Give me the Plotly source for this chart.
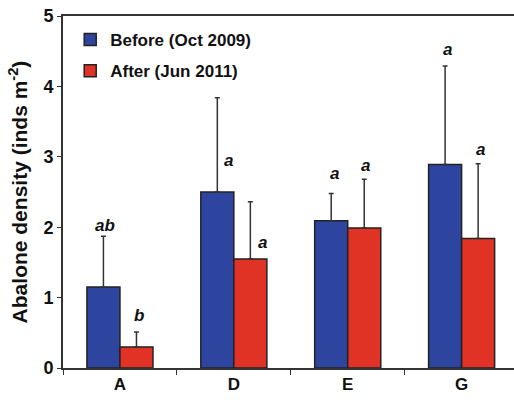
import plotly.graph_objects as go

categories = ["A", "D", "E", "G"]
before_vals = [1.15, 2.50, 2.09, 2.89]
before_err = [0.72, 1.34, 0.39, 1.40]
after_vals = [0.30, 1.55, 1.99, 1.84]
after_err = [0.21, 0.81, 0.69, 1.06]
before_letters = ["ab", "a", "a", "a"]
after_letters = ["b", "a", "a", "a"]
before_letter_y = [2.03, 2.95, 2.76, 4.52]
after_letter_y = [0.74, 1.78, 2.88, 3.11]
before_letter_dx = [-15, -5, -13, -14]
after_letter_dx = [19, 29, 18, 19]

FONT = "Arial, Liberation Sans, sans-serif"
BLUE = "#2E45A0"
RED = "#E03326"
EDGE = "#222222"

fig = go.Figure()
fig.add_trace(go.Bar(
    name="<b>Before (Oct 2009)</b>", x=categories, y=before_vals,
    marker=dict(color=BLUE, line=dict(color=EDGE, width=1.5)),
    error_y=dict(type="data", symmetric=False, array=before_err,
                 arrayminus=[0] * 4, color="#333333", thickness=1.5, width=2.5),
    legendgroup="b",
))
fig.add_trace(go.Bar(
    name="<b>After (Jun 2011)</b>", x=categories, y=after_vals,
    marker=dict(color=RED, line=dict(color=EDGE, width=1.5)),
    error_y=dict(type="data", symmetric=False, array=after_err,
                 arrayminus=[0] * 4, color="#333333", thickness=1.5, width=2.5),
    legendgroup="a",
))

for cat, t, yv, dx in zip(categories, before_letters, before_letter_y, before_letter_dx):
    fig.add_annotation(x=cat, y=yv, text=f"<b><i>{t}</i></b>", showarrow=False,
                       xshift=dx, yanchor="middle", font=dict(size=17, color="#111111", family=FONT))
for cat, t, yv, dx in zip(categories, after_letters, after_letter_y, after_letter_dx):
    fig.add_annotation(x=cat, y=yv, text=f"<b><i>{t}</i></b>", showarrow=False,
                       xshift=dx, yanchor="middle", font=dict(size=17, color="#111111", family=FONT))

fig.update_layout(
    width=514, height=405,
    margin=dict(l=63, r=0, t=16, b=37),
    paper_bgcolor="white", plot_bgcolor="white",
    barmode="group", bargap=0.42, bargroupgap=0,
    font=dict(family=FONT, color="#111111"),
    showlegend=True,
    legend=dict(x=0.016, y=0.983, xanchor="left", yanchor="top",
                font=dict(size=17, family=FONT, color="#111111"),
                tracegroupgap=6, bgcolor="rgba(0,0,0,0)",
                traceorder="grouped"),
)
fig.update_xaxes(
    type="category", range=[-0.5, 3.46], automargin=False,
    showline=True, linecolor="#333333", linewidth=2, mirror=True,
    ticks="outside", tickson="boundaries", ticklen=5, tickwidth=1.2, tickcolor="#333333",
    tickfont=dict(size=17, family=FONT, color="#111111"),
    tickprefix="<b>", ticksuffix="</b>",
    showgrid=False, zeroline=False,
)
fig.update_yaxes(
    range=[0, 5], dtick=1, automargin=False, ticklabeloverflow="allow",
    showline=True, linecolor="#333333", linewidth=2,
    ticks="outside", ticklen=4, tickwidth=1.2, tickcolor="#333333",
    tickfont=dict(size=18, family=FONT, color="#111111"),
    tickprefix="<b>", ticksuffix="</b>",
    showgrid=False, zeroline=False,
    title=dict(text="<b>Abalone density (inds m<sup>-2</sup>)</b>",
               font=dict(size=21, family=FONT, color="#111111"), standoff=10),
)

fig.write_html("out.html", config={"displayModeBar": False},
               post_script="document.body.style.margin='0';")
